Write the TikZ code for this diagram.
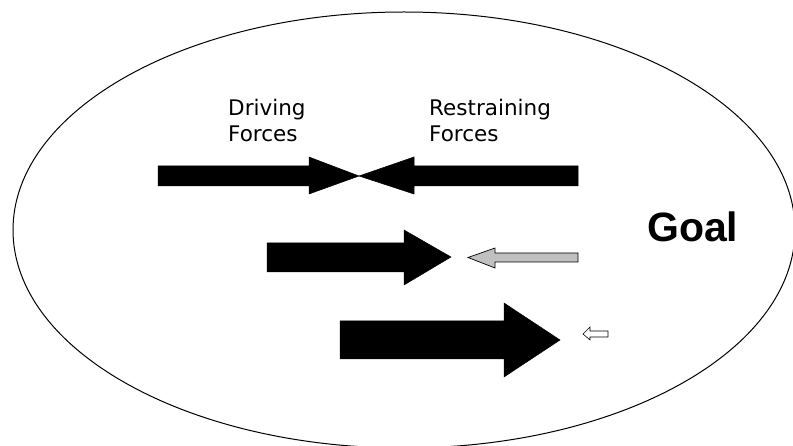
\documentclass[tikz,border=0pt]{standalone}
\usepackage{fontspec}
\setmainfont{DejaVu Sans}
\newfontfamily\goalfont{Liberation Sans}
\begin{document}
\begin{tikzpicture}[x=1pt,y=-1pt,
  blackarrow/.style={fill=black,draw=black,line width=0.5pt},
  grayarrow/.style={fill={rgb,255:red,192;green,192;blue,192},draw=black,line width=0.7pt},
  whitearrow/.style={fill=white,draw=black,line width=0.6pt},
  lbl/.style={anchor=base west,inner sep=0pt,align=left,font=\fontsize{21.5}{26.5}\selectfont}]
\useasboundingbox (0,0) rectangle (793,446);
\begin{scope}
\clip (0,0) rectangle (793,446);
\draw[line width=1pt] (404,230) ellipse (391 and 218);
\end{scope}
% labels
\node[lbl] (drv) at (228,142) {Driving\\Forces};
\node[lbl] (rst) at (429,142) {Restraining\\Forces};
\node[anchor=base west,inner sep=0pt,font=\goalfont\bfseries\fontsize{41}{41}\selectfont] (goal) at (647,242) {Goal};
% row 1
\path[blackarrow] (158,166) -- (309,166) -- (309,157) -- (359,176) -- (309,194) -- (309,186) -- (158,186) -- cycle;
\path[blackarrow] (578,166) -- (414,166) -- (414,157) -- (359,176) -- (414,194) -- (414,186) -- (578,186) -- cycle;
% row 2
\path[blackarrow] (267,243) -- (404,243) -- (404,230) -- (451,257) -- (404,285) -- (404,272) -- (267,272) -- cycle;
\path[grayarrow] (578,253) -- (495,253) -- (495,248) -- (468,257.5) -- (495,268) -- (495,262) -- (578,262) -- cycle;
% row 3
\path[blackarrow] (340,321) -- (504,321) -- (504,303) -- (560,340) -- (504,377) -- (504,359) -- (340,359) -- cycle;
\path[whitearrow] (608,331) -- (590,331) -- (590,327) -- (583,334) -- (590,340) -- (590,337) -- (608,337) -- cycle;
\end{tikzpicture}
\end{document}
